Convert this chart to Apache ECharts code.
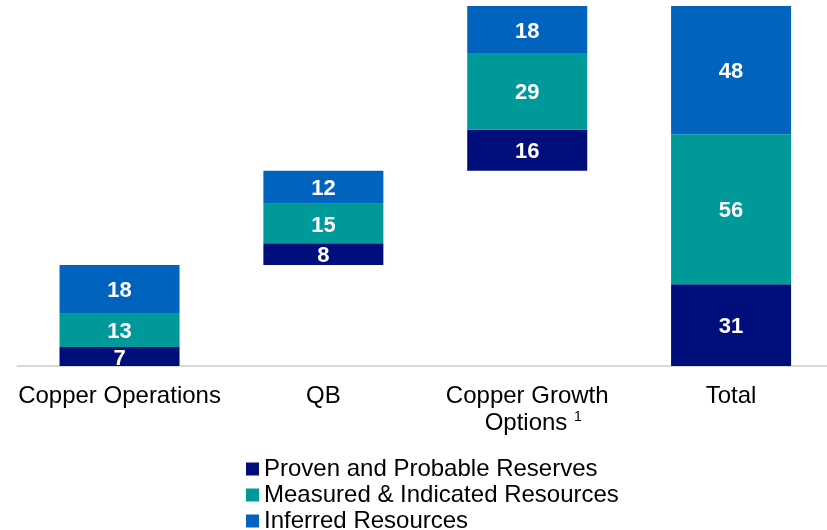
<!DOCTYPE html>
<html>
<head>
<meta charset="utf-8">
<script src="https://cdn.jsdelivr.net/npm/echarts@6/dist/echarts.min.js"></script>
<style>
html,body{margin:0;padding:0;background:#fff;}
#chart{width:827px;height:530px;}
</style>
</head>
<body>
<div id="chart"></div>
<script>
var categories = ['Copper Operations', 'QB', 'Copper Growth\n{sp| }Options {sup|1}', 'Total'];
var seriesNames = ['Proven and Probable Reserves', 'Measured & Indicated Resources', 'Inferred Resources'];
var provenProbable = [7.1, 8.1, 15.5, 30.7];
var measuredIndicated = [12.8, 14.8, 28.7, 56.2];
var inferred = [18.0, 12.4, 17.6, 48.1];
var colors = ['#000E7C', '#009999', '#0064BF'];

// waterfall offsets: each intermediate step starts where the previous ended; Total starts at 0
function stepTotal(i) { return provenProbable[i] + measuredIndicated[i] + inferred[i]; }
var base = [];
var running = 0;
for (var i = 0; i < categories.length; i++) {
  if (i === categories.length - 1) { base.push(0); }
  else { base.push(running); running += stepTotal(i); }
}

var labelStyle = {
  show: true,
  position: 'inside',
  offset: [0, 2],
  color: '#ffffff',
  fontFamily: 'Liberation Sans, Arial, sans-serif',
  fontWeight: 'bold',
  fontSize: 22,
  formatter: function (p) { return Math.round(p.value); }
};

var chart = echarts.init(document.getElementById('chart'), null, {renderer: 'canvas'});
var option = {
  animation: false,
  backgroundColor: '#ffffff',
  grid: { left: 17.6, width: 815.4, top: 6, bottom: 164, containLabel: false, outerBoundsMode: 'none' },
  legend: {
    orient: 'vertical',
    left: 246,
    top: 456,
    height: 120,
    padding: 0,
    itemGap: 0,
    itemWidth: 13,
    itemHeight: 13,
    icon: 'rect',
    data: seriesNames,
    textStyle: {
      fontFamily: 'Liberation Sans, Arial, sans-serif',
      fontSize: 24,
      lineHeight: 26,
      color: '#000000'
    }
  },
  xAxis: {
    type: 'category',
    data: categories,
    axisLine: { show: true, lineStyle: { color: '#D9D9D9', width: 2 } },
    axisTick: { show: false },
    axisLabel: {
      interval: 0,
      margin: 17,
      color: '#000000',
      fontFamily: 'Liberation Sans, Arial, sans-serif',
      fontSize: 24,
      lineHeight: 27,
      rich: {
        sp: { width: 12, fontSize: 24, lineHeight: 27 },
        sup: { fontSize: 14, lineHeight: 14, verticalAlign: 'top', color: '#000000', fontFamily: 'Liberation Sans, Arial, sans-serif' }
      }
    }
  },
  yAxis: {
    type: 'value',
    min: 0,
    max: 135,
    show: false,
    splitLine: { show: false }
  },
  series: [
    {
      name: 'base',
      type: 'bar',
      stack: 'w',
      barWidth: 120,
      data: base,
      itemStyle: { color: 'rgba(0,0,0,0)' },
      silent: true,
      label: { show: false }
    },
    {
      name: seriesNames[0], type: 'bar', stack: 'w', barWidth: 120,
      data: provenProbable, itemStyle: { color: colors[0] }, label: labelStyle
    },
    {
      name: seriesNames[1], type: 'bar', stack: 'w', barWidth: 120,
      data: measuredIndicated, itemStyle: { color: colors[1] }, label: labelStyle
    },
    {
      name: seriesNames[2], type: 'bar', stack: 'w', barWidth: 120,
      data: inferred, itemStyle: { color: colors[2] }, label: labelStyle
    }
  ]
};
chart.setOption(option);
</script>
</body>
</html>
